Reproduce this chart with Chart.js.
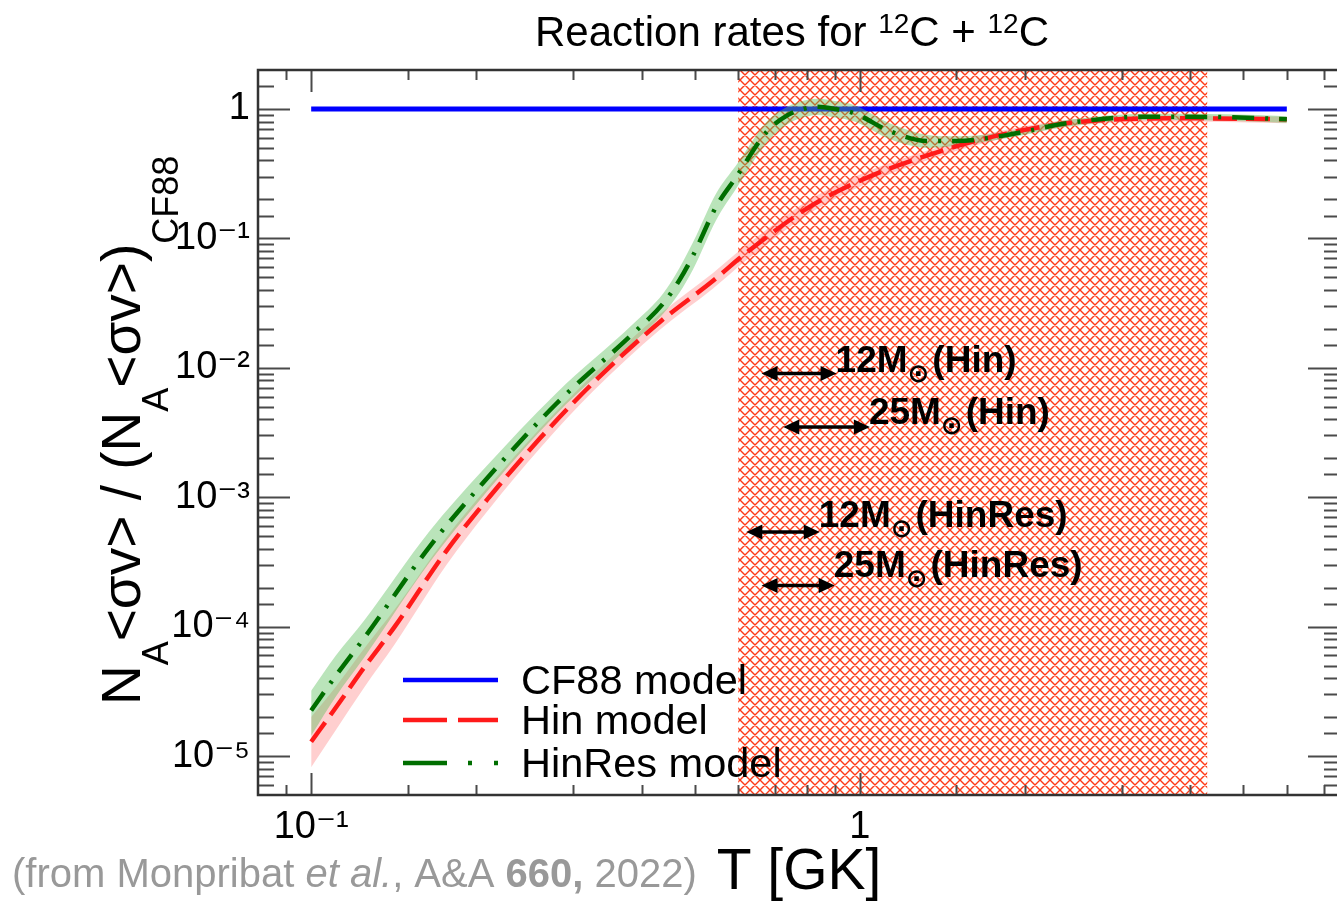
<!DOCTYPE html>
<html><head><meta charset="utf-8">
<script src="https://cdn.jsdelivr.net/npm/chart.js@4.4.1/dist/chart.umd.min.js"></script>
<style>
html,body{margin:0;padding:0;overflow:hidden;background:#fff;width:1337px;height:903px;}
#wrap{position:absolute;left:0;top:0;width:1350px;height:903px;}
</style></head><body>
<div id="wrap"><canvas id="c" width="1350" height="903"></canvas></div>
<script>
// ---------------- data ----------------
const cf88T = [0.1, 6.0];
const cf88V = [1, 1];

const hinT  = [0.1, 0.111, 0.125, 0.142, 0.176, 0.211, 0.261, 0.326, 0.432, 0.54, 0.62, 0.85, 1.42, 2.38, 3.96, 6.0];
const hinV  = [1.29e-5, 2.38e-5, 4.86e-5, 1.0e-4, 3.8e-4, 1.0e-3, 2.84e-3, 7.6e-3, 0.0226, 0.047, 0.077, 0.198, 0.48, 0.775, 0.847, 0.832];
const hinLo = [8.2e-6, 1.6e-5, 3.4e-5, 7.3e-5, 2.95e-4, 8.1e-4, 2.38e-3, 6.55e-3, 0.0197, 0.041, 0.0675, 0.176, 0.44, 0.73, 0.80, 0.775];
const hinHi = [2.0e-5, 3.45e-5, 6.8e-5, 1.36e-4, 4.85e-4, 1.23e-3, 3.38e-3, 8.8e-3, 0.026, 0.054, 0.088, 0.224, 0.52, 0.82, 0.89, 0.87];

const hinresT  = [0.1, 0.111, 0.125, 0.164, 0.205, 0.28, 0.386, 0.438, 0.469, 0.497, 0.547, 0.596, 0.677, 0.74, 0.796, 0.838, 0.9, 0.977, 1.139, 1.33, 1.5, 1.84, 2.38, 3.34, 4.7, 6.0];
const hinresV  = [2.25e-5, 4.2e-5, 8.2e-5, 4.1e-4, 1.27e-3, 5.3e-3, 0.0184, 0.0314, 0.0476, 0.0743, 0.1756, 0.30, 0.668, 0.9, 1.01, 1.04, 1.0, 0.926, 0.668, 0.565, 0.565, 0.625, 0.775, 0.872, 0.863, 0.832];
const hinresLo = [1.44e-5, 2.9e-5, 5.8e-5, 3.1e-4, 1.0e-3, 4.4e-3, 0.0156, 0.0262, 0.038, 0.058, 0.138, 0.245, 0.55, 0.77, 0.87, 0.9, 0.86, 0.8, 0.58, 0.5, 0.52, 0.59, 0.73, 0.82, 0.81, 0.78];
const hinresHi = [3.2e-5, 6.0e-5, 1.12e-4, 5.4e-4, 1.6e-3, 6.4e-3, 0.0218, 0.0375, 0.059, 0.094, 0.222, 0.37, 0.8, 1.05, 1.17, 1.2, 1.15, 1.07, 0.77, 0.63, 0.615, 0.665, 0.82, 0.92, 0.91, 0.88];

const hatchRange = [0.6, 4.3];

const xRange = [0.08, 7.5];
const yRange = [5e-6, 2];
const xTickValues = [0.1, 1];
const xTickLabels = ['10\u207B\u00B9', '1'];
const yTickValues = [1e-5, 1e-4, 1e-3, 1e-2, 1e-1, 1];
const yTickLabels = ['10\u207B\u2075', '10\u207B\u2074', '10\u207B\u00B3', '10\u207B\u00B2', '10\u207B\u00B9', '1'];

const seriesNames = ['CF88 model', 'Hin model', 'HinRes model'];

const arrowFrom  = [0.662, 0.725, 0.621, 0.662];
const arrowTo    = [0.907, 1.043, 0.845, 0.90];
const arrowV     = [9.03e-3, 3.49e-3, 5.38e-4, 2.08e-4];
const labelV     = [9.29e-3, 3.71e-3, 5.88e-4, 2.41e-4];
const arrowMass  = ['12', '25', '12', '25'];
const arrowModel = ['(Hin)', '(Hin)', '(HinRes)', '(HinRes)'];

// ---------------- styling ----------------
const FONT = "'Liberation Sans', 'DejaVu Sans', Arial, sans-serif";
const BLUE = '#0000ff', RED = '#ff1a1a', GREEN = '#006e00';
const RED_DASH = [24, 9];
const GREEN_DASH = [22, 11, 3, 11];

const pts = (xs, ys) => xs.map((x, i) => ({x: x, y: ys[i]}));

function makeHatch() {
  const s = 10;
  const c = document.createElement('canvas');
  c.width = s; c.height = s;
  const g = c.getContext('2d');
  g.fillStyle = '#ffffff';
  g.fillRect(0, 0, s, s);
  g.strokeStyle = '#ff3a18';
  g.lineWidth = 1.4;
  g.beginPath();
  for (const k of [-s, 0, s]) {
    g.moveTo(k, 0); g.lineTo(k + s, s);
    g.moveTo(k + s, 0); g.lineTo(k, s);
  }
  g.stroke();
  return g.createPattern(c, 'repeat');
}

function isPow10(v) {
  const l = Math.log10(v);
  return Math.abs(l - Math.round(l)) < 1e-6;
}
function labelFor(v, vals, labs) {
  for (let i = 0; i < vals.length; i++) {
    if (Math.abs(Math.log10(v) - Math.log10(vals[i])) < 1e-6) return labs[i];
  }
  return '';
}

function runsWidth(ctx, runs) {
  let w = 0;
  for (const r of runs) { ctx.font = r.font; w += ctx.measureText(r.t).width + (r.gap || 0); }
  return w;
}
function drawRuns(ctx, runs, x, y) {
  for (const r of runs) {
    ctx.font = r.font;
    ctx.fillText(r.t, x, y + (r.dy || 0));
    x += ctx.measureText(r.t).width + (r.gap || 0);
  }
  return x;
}

function arrow(ctx, x1, x2, y) {
  const hl = 16, hw = 7.5;
  ctx.lineWidth = 3.5;
  ctx.beginPath(); ctx.moveTo(x1 + hl - 2, y); ctx.lineTo(x2 - hl + 2, y); ctx.stroke();
  ctx.beginPath(); ctx.moveTo(x1, y); ctx.lineTo(x1 + hl, y - hw); ctx.lineTo(x1 + hl, y + hw); ctx.closePath(); ctx.fill();
  ctx.beginPath(); ctx.moveTo(x2, y); ctx.lineTo(x2 - hl, y - hw); ctx.lineTo(x2 - hl, y + hw); ctx.closePath(); ctx.fill();
}

const decor = {
  id: 'decor',
  afterDraw(chart) {
    const ctx = chart.ctx, a = chart.chartArea, xs = chart.scales.x, ys = chart.scales.y;
    ctx.save();
    // tick marks (inside, all four sides)
    ctx.strokeStyle = '#4a4a4a';
    ctx.lineWidth = 2;
    ctx.beginPath();
    xs.ticks.forEach(t => {
      const v = t.value;
      if (v <= xs.min * 1.0001 || v >= xs.max * 0.9999) return;
      const p = Math.round(xs.getPixelForValue(v)) + 0.5;
      const L = isPow10(v) ? 22 : 10;
      ctx.moveTo(p, a.bottom); ctx.lineTo(p, a.bottom - L);
      ctx.moveTo(p, a.top); ctx.lineTo(p, a.top + L);
    });
    ys.ticks.forEach(t => {
      const v = t.value;
      if (v <= ys.min * 1.0001 || v >= ys.max * 0.9999) return;
      const p = Math.round(ys.getPixelForValue(v)) + 0.5;
      const L = isPow10(v) ? 32 : 16;
      ctx.moveTo(a.left, p); ctx.lineTo(a.left + L, p);
      ctx.moveTo(a.right, p); ctx.lineTo(a.right - L, p);
    });
    ctx.stroke();
    // frame
    ctx.strokeStyle = '#333';
    ctx.lineWidth = 2.5;
    ctx.strokeRect(a.left, a.top, a.right - a.left, a.bottom - a.top);

    // legend
    const ly = [680, 720, 763];
    const cols = [BLUE, RED, GREEN];
    const dashes = [[], [44, 11], [44, 21, 4, 22, 4, 40]];
    ctx.lineWidth = 4.5;
    for (let i = 0; i < 3; i++) {
      ctx.strokeStyle = cols[i];
      ctx.setLineDash(dashes[i]);
      ctx.beginPath(); ctx.moveTo(403, ly[i]); ctx.lineTo(498, ly[i]); ctx.stroke();
    }
    ctx.setLineDash([]);
    ctx.fillStyle = '#000';
    ctx.font = '41.5px ' + FONT;
    ctx.textBaseline = 'alphabetic';
    ctx.textAlign = 'left';
    for (let i = 0; i < 3; i++) ctx.fillText(seriesNames[i], 521, ly[i] + 14);

    // arrows + labels
    ctx.fillStyle = '#000'; ctx.strokeStyle = '#000';
    for (let i = 0; i < arrowFrom.length; i++) {
      const x1 = xs.getPixelForValue(arrowFrom[i]);
      const x2 = xs.getPixelForValue(arrowTo[i]);
      const y = ys.getPixelForValue(arrowV[i]);
      arrow(ctx, x1, x2, y);
      const by = ys.getPixelForValue(labelV[i]);
      const B = 'bold 37px ' + FONT;
      drawRuns(ctx, [
        {t: arrowMass[i] + 'M', font: B, gap: 0},
        {t: '\u2299', font: 'bold 26px DejaVu Sans', dy: 10, gap: 3},
        {t: arrowModel[i], font: B}
      ], x2 - 1, by);
    }

    // chart title
    const T = '42px ' + FONT, S = '28px ' + FONT;
    const tr = [
      {t: 'Reaction rates for ', font: T},
      {t: '12', font: S, dy: -13},
      {t: 'C + ', font: T},
      {t: '12', font: S, dy: -13},
      {t: 'C', font: T}
    ];
    const tw = runsWidth(ctx, tr);
    drawRuns(ctx, tr, 792 - tw / 2, 46);

    // y axis title (rotated)
    const M = '55px ' + FONT, sb = '36px ' + FONT;
    ctx.save();
    ctx.translate(140, 705);
    ctx.rotate(-Math.PI / 2);
    drawRuns(ctx, [
      {t: 'N', font: M},
      {t: 'A', font: sb, dy: 28},
      {t: '<\u03C3v> / (N', font: M},
      {t: 'A', font: sb, dy: 28},
      {t: '<\u03C3v>)', font: M},
      {t: 'CF88', font: sb, dy: 38}
    ], 0, 0);
    ctx.restore();

    // credit
    ctx.fillStyle = '#999999';
    const C = '40px ' + FONT;
    drawRuns(ctx, [
      {t: '(from Monpribat ', font: C},
      {t: 'et al.', font: 'italic 40px ' + FONT},
      {t: ', A&A ', font: C},
      {t: '660,', font: 'bold 40px ' + FONT},
      {t: ' 2022)', font: C}
    ], 12, 887);
    ctx.restore();
  }
};

const common = {pointRadius: 0, pointHoverRadius: 0, cubicInterpolationMode: 'monotone', spanGaps: true};

const datasets = [
  // 0 HinRes central line (top)
  Object.assign({label: seriesNames[2], data: pts(hinresT, hinresV), borderColor: GREEN, borderWidth: 4.5,
    borderDash: GREEN_DASH, fill: false, order: 0}, common),
  // 1 Hin central line
  Object.assign({label: seriesNames[1], data: pts(hinT, hinV), borderColor: RED, borderWidth: 4.5,
    borderDash: RED_DASH, fill: false, order: 1}, common),
  // 2 HinRes band lower
  Object.assign({label: 'HinRes low', data: pts(hinresT, hinresLo), borderWidth: 0, borderColor: 'rgba(0,0,0,0)',
    fill: false, order: 3}, common),
  // 3 HinRes band upper
  Object.assign({label: 'HinRes high', data: pts(hinresT, hinresHi), borderWidth: 0, borderColor: 'rgba(0,0,0,0)',
    backgroundColor: 'rgba(90,190,90,0.42)', fill: 2, order: 3}, common),
  // 4 Hin band lower
  Object.assign({label: 'Hin low', data: pts(hinT, hinLo), borderWidth: 0, borderColor: 'rgba(0,0,0,0)',
    fill: false, order: 4}, common),
  // 5 Hin band upper
  Object.assign({label: 'Hin high', data: pts(hinT, hinHi), borderWidth: 0, borderColor: 'rgba(0,0,0,0)',
    backgroundColor: 'rgba(255,110,110,0.33)', fill: 4, order: 4}, common),
  // 6 CF88
  Object.assign({label: seriesNames[0], data: pts(cf88T, cf88V), borderColor: BLUE, borderWidth: 5,
    fill: false, order: 5}, common),
  // 7 hatched temperature range
  {label: 'range', data: hatchRange.map(x => ({x: x, y: yRange[1]})), borderWidth: 0, borderColor: 'rgba(0,0,0,0)',
    backgroundColor: makeHatch(), fill: 'start', pointRadius: 0, tension: 0, order: 6}
];

new Chart(document.getElementById('c'), {
  type: 'line',
  data: {datasets: datasets},
  options: {
    responsive: false,
    animation: false,
    devicePixelRatio: 1,
    layout: {padding: {top: 70, left: 0, right: 0, bottom: 0}},
    plugins: {legend: {display: false}, tooltip: {enabled: false}, title: {display: false}},
    events: [],
    scales: {
      x: {
        type: 'logarithmic', position: 'bottom', min: xRange[0], max: xRange[1],
        grid: {display: false, drawTicks: false}, border: {display: false},
        ticks: {autoSkip: false, maxRotation: 0, minRotation: 0, padding: 10, color: '#000',
          font: {family: FONT, size: 38},
          callback: (v) => labelFor(v, xTickValues, xTickLabels)},
        title: {display: true, text: 'T [GK]', color: '#000', font: {family: FONT, size: 57},
          padding: {top: 0, bottom: -4}},
        afterFit: (s) => { s.height = 108; }
      },
      y: {
        type: 'logarithmic', position: 'left', min: yRange[0], max: yRange[1],
        grid: {display: false, drawTicks: false}, border: {display: false},
        ticks: {autoSkip: false, padding: 8, color: '#000', font: {family: FONT, size: 38},
          callback: (v) => labelFor(v, yTickValues, yTickLabels)},
        afterFit: (s) => { s.width = 258; }
      }
    }
  },
  plugins: [decor]
});
</script>
</body></html>
